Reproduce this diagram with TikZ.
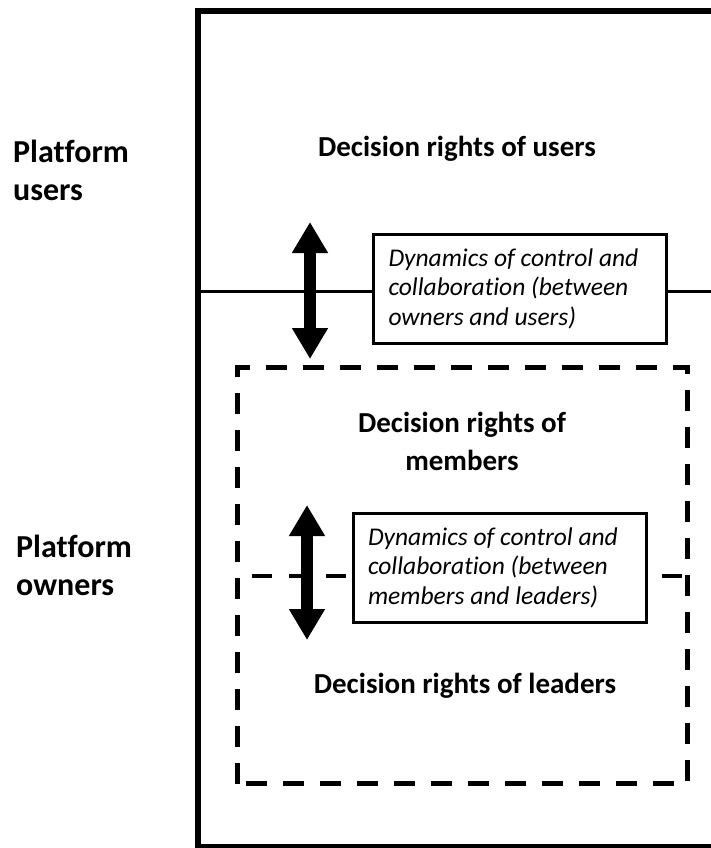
\documentclass[tikz,border=0pt]{standalone}
\usepackage{fontspec}
\setmainfont{Carlito}[Ligatures=NoCommon]
\usetikzlibrary{arrows.meta}
\begin{document}
\begin{tikzpicture}[x=1pt,y=-1pt,
  boldlbl/.style={font=\bfseries\fontsize{29}{38}\selectfont, inner sep=0pt},
  sidelbl/.style={font=\bfseries\fontsize{32}{38}\selectfont, inner sep=0pt, align=flush left},
  dynbox/.style={draw, line width=3pt, minimum width=293pt, minimum height=109pt, text width=263pt, align=flush left, inner sep=0pt, font=\itshape\fontsize{25.5}{29.5}\selectfont, fill=white},
  bigarrow/.style={line width=12pt, {Triangle[width=34pt,length=31pt]}-{Triangle[width=34pt,length=31pt]}},
  dashline/.style={line width=4.5pt, dash pattern=on 20pt off 17pt},
]
\useasboundingbox (0,0) rectangle (711,848);
\clip (0,0) rectangle (711,848);
\fill[white] (0,0) rectangle (711,848);
% outer frame
\draw[line width=6pt] (197.5,11.5) rectangle (720,847);
% side labels
\node[sidelbl, anchor=base west] (pu) at (13,200) {Platform\\users};
\node[sidelbl, anchor=base west] (po) at (16,595) {Platform\\owners};
% decision rights labels
\node[boldlbl, anchor=base] (dru) at (457,156) {Decision rights of users};
\node[boldlbl, align=center, anchor=base] (drm) at (462,470) {Decision rights of\\members};
\node[boldlbl, anchor=base] (drl) at (465,693) {Decision rights of leaders};
% dynamics boxes
\node[dynbox] (dyn1) at (520,288.5) {Dynamics of control and\\collaboration (between\\owners and users)};
\node[dynbox] (dyn2) at (499.5,567.5) {Dynamics of control and\\collaboration (between\\members and leaders)};
% solid divider
\coordinate (uL) at (197.5,291);
\coordinate (uR) at (720,291);
\draw[line width=3pt] (uL) -- (uL -| dyn1.west);
\draw[line width=3pt] (uL -| dyn1.east) -- (uR);
% dashed members box
\draw[line width=5pt, dash pattern=on 21pt off 16pt] (237.5,783.5) rectangle (687,367.5);
% dashed divider
\coordinate (mL) at (240,576);
\coordinate (mR) at (687,576);
\draw[dashline, dash phase=25pt] (mL) -- (mL -| dyn2.west);
\draw[dashline, dash phase=23pt] (mL -| dyn2.east) -- (mR);
% arrows
\coordinate (a1t) at (310,222);
\coordinate (a1b) at (310,359);
\draw[bigarrow] (a1t) -- (a1b);
\coordinate (a2t) at (307,505);
\coordinate (a2b) at (307,640);
\draw[bigarrow] (a2t) -- (a2b);
\end{tikzpicture}
\end{document}
